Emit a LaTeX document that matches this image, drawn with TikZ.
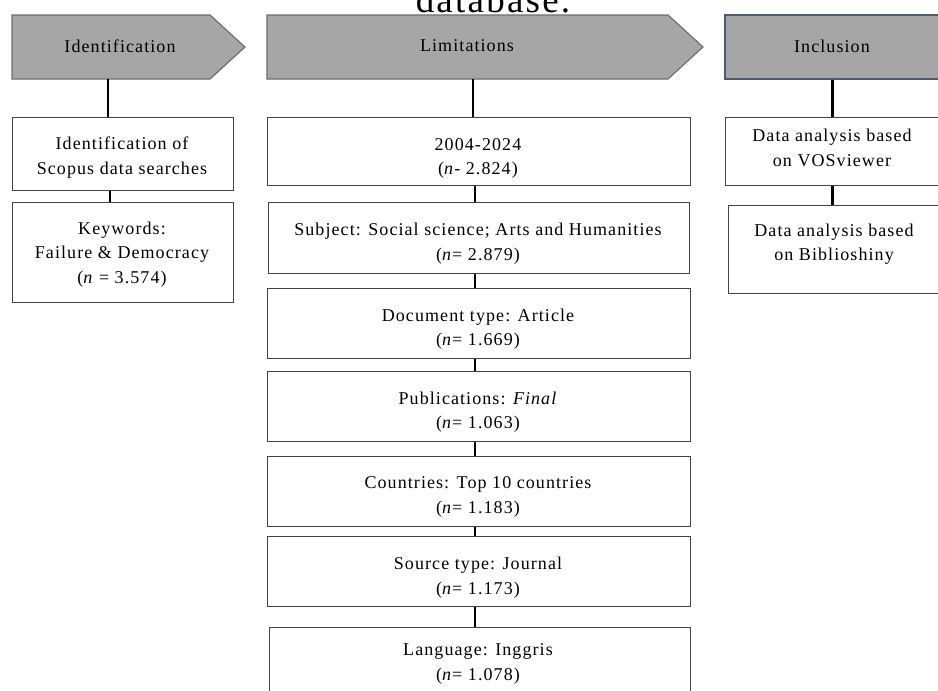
\documentclass[tikz,border=0pt]{standalone}
\usepackage{fontspec}
\setmainfont{Liberation Serif}[LetterSpace=6]
\definecolor{hdrfill}{HTML}{A6A6A6}
\definecolor{hdrline}{HTML}{6E6E6E}
\definecolor{incline}{HTML}{4A5A78}
\definecolor{boxline}{HTML}{454545}
\begin{document}
\begin{tikzpicture}[x=1pt,y=-1pt,
  hdr/.style={draw=hdrline, fill=hdrfill, line width=1.2pt},
  box/.style={draw=boxline, line width=1pt, fill=white, rectangle, inner sep=0pt},
  lbl/.style={align=center, inner sep=0pt, font=\fontsize{18}{24.5}\selectfont},
  conn/.style={line width=2.8pt, draw=black}]
\useasboundingbox (0,0) rectangle (938,691);
\clip (0,0) rectangle (938,691);
% stray caption text at top
\node[anchor=base, inner sep=0pt, font=\fontsize{37}{40}\selectfont] (db) at (493,12) {database.};
% coordinates for connectors
\coordinate (hidb) at (108,79);
\coordinate (cx2) at (110,0);
\coordinate (limb) at (473,79);
\coordinate (lx) at (475,0);
% headers
\draw[hdr] (12,15) -- (210,15) -- (245,47) -- (210,79) -- (12,79) -- cycle;
\node[lbl] (hid) at (120,46) {Identification};
\draw[hdr] (267,15) -- (668,15) -- (703,47) -- (668,79) -- (267,79) -- cycle;
\node[lbl] (hlim) at (467,46) {Limitations};
\node[box, draw=incline, fill=hdrfill, line width=1.2pt, minimum width=215pt, minimum height=64pt] (inc) at (832.5,47) {};
\node[lbl] (inct) at (832,46) {Inclusion};
% identification column
\node[box, minimum width=221pt, minimum height=73pt] (i1) at (122.5,153.5) {};
\node[lbl] (i1t) at (122,157.5) {Identification of\\Scopus data searches};
\node[box, minimum width=221pt, minimum height=100pt] (i2) at (122.5,252) {};
\node[lbl] (i2t) at (122,254.5) {Keywords:\\Failure \& Democracy\\(\textit{n} = 3.574)};
% limitations column
\node[box, minimum width=423pt, minimum height=68pt] (l1) at (478.5,151) {};
\node[lbl] (l1t) at (478,158.5) {2004-2024\\(\textit{n}- 2.824)};
\node[box, minimum width=421pt, minimum height=71pt] (l2) at (478.5,237.5) {};
\node[lbl] (l2t) at (478,243.5) {Subject: Social science; Arts and Humanities\\(\textit{n}= 2.879)};
\node[box, minimum width=423pt, minimum height=70pt] (l3) at (478.5,323) {};
\node[lbl] (l3t) at (478,329) {Document type: Article\\(\textit{n}= 1.669)};
\node[box, minimum width=423pt, minimum height=70pt] (l4) at (478.5,406) {};
\node[lbl] (l4t) at (478,412) {Publications: \textit{Final}\\(\textit{n}= 1.063)};
\node[box, minimum width=423pt, minimum height=70pt] (l5) at (478.5,491) {};
\node[lbl] (l5t) at (478,497) {Countries: Top 10 countries\\(\textit{n}= 1.183)};
\node[box, minimum width=423pt, minimum height=70pt] (l6) at (478.5,571) {};
\node[lbl] (l6t) at (478,577.5) {Source type: Journal\\(\textit{n}= 1.173)};
\node[box, minimum width=421pt, minimum height=70pt] (l7) at (479.5,662) {};
\node[lbl] (l7t) at (478,664) {Language: Inggris\\(\textit{n}= 1.078)};
% inclusion column
\node[box, minimum width=215pt, minimum height=68pt] (v1) at (832.5,151) {};
\node[lbl] (v1t) at (832,148) {Data analysis based\\on VOSviewer};
\node[box, minimum width=212pt, minimum height=88pt] (v2) at (834,249) {};
\node[lbl] (v2t) at (834,244) {Data analysis based\\on Biblioshiny};
% connectors
\draw[conn] (hidb) -- (i1.north -| hidb);
\draw[conn] (i1.south -| cx2) -- (i2.north -| cx2);
\draw[conn] (limb) -- (l1.north -| limb);
\draw[conn] (l1.south -| lx) -- (l2.north -| lx);
\draw[conn] (l2.south -| lx) -- (l3.north -| lx);
\draw[conn] (l3.south -| lx) -- (l4.north -| lx);
\draw[conn] (l4.south -| lx) -- (l5.north -| lx);
\draw[conn] (l5.south -| lx) -- (l6.north -| lx);
\draw[conn] (l6.south -| lx) -- (l7.north -| lx);
\draw[conn] (inc.south) -- (v1.north);
\draw[conn] (v1.south) -- (v1.south |- v2.north);
\end{tikzpicture}
\end{document}
